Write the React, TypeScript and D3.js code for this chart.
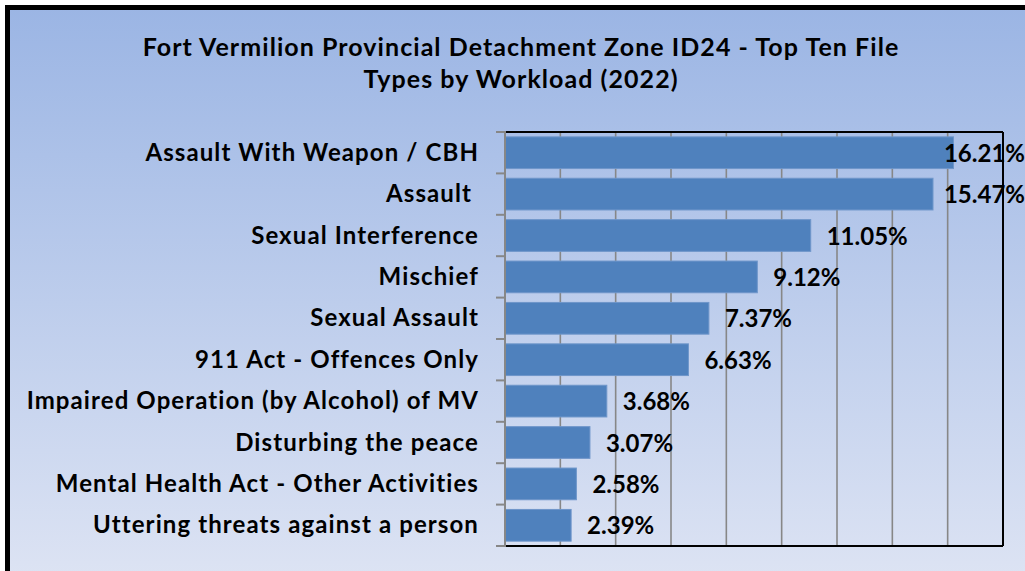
import React from "react";
import * as d3 from "d3";

const titleLines = [
  "Fort Vermilion Provincial Detachment Zone ID24 - Top Ten File",
  "Types by Workload (2022)",
];
const categories = [
  "Assault With Weapon / CBH",
  "Assault ",
  "Sexual Interference",
  "Mischief",
  "Sexual Assault",
  "911 Act - Offences Only",
  "Impaired Operation (by Alcohol) of MV",
  "Disturbing the peace",
  "Mental Health Act - Other Activities",
  "Uttering threats against a person",
];
const values = [16.21, 15.47, 11.05, 9.12, 7.37, 6.63, 3.68, 3.07, 2.58, 2.39];
const xTicks = [0, 2, 4, 6, 8, 10, 12, 14, 16, 18];

const W = 1025;
const H = 571;
const FONT = "Lato, 'Open Sans', sans-serif";

export default function App() {
  const left = 505;
  const right = 1003;
  const top = 132;
  const bottom = 546;
  const x = d3.scaleLinear().domain([0, 18]).range([left, right]);
  const y = d3.scaleBand<string>().domain(categories).range([top, bottom]).paddingInner(0.234).paddingOuter(0.117);
  const step = y.step();
  const labelFs = 24;
  const valueW = 79;

  return (
    <svg width={W} height={H} style={{ position: "absolute", left: 0, top: 0 }} fontFamily={FONT}>
      <defs>
        <linearGradient id="bg" x1="0" y1="0" x2="0" y2="1">
          <stop offset="0" stopColor="#9bb5e4" />
          <stop offset="1" stopColor="#dfe5f4" />
        </linearGradient>
      </defs>
      <rect x={7.5} y={7.5} width={W + 20} height={H + 20} fill="url(#bg)" stroke="#000" strokeWidth={5} />
      {titleLines.map((t, i) => (
        <text
          key={i}
          x={521}
          y={56 + i * 32}
          textAnchor="middle"
          fontSize={25}
          letterSpacing={1.05}
          fontWeight="bold"
          fill="#000"
        >
          {t}
        </text>
      ))}
      {xTicks.slice(1, -1).map((t) => (
        <line key={t} x1={x(t)} x2={x(t)} y1={top} y2={bottom} stroke="#878787" strokeWidth={1.6} />
      ))}
      {categories.map((c, i) => (
        <rect
          key={c}
          x={x(0)}
          y={y(c)!}
          width={x(values[i]) - x(0)}
          height={y.bandwidth()}
          fill="#4f81bd"
          stroke="#6f96ca"
          strokeWidth={1}
        />
      ))}
      <line x1={left} x2={right} y1={top} y2={top} stroke="#000" strokeWidth={2} />
      <line x1={right} x2={right} y1={top} y2={bottom} stroke="#000" strokeWidth={2} />
      <line x1={left} x2={right} y1={bottom} y2={bottom} stroke="#000" strokeWidth={2} />
      <line x1={left} x2={left} y1={top - 1} y2={bottom + 1} stroke="#878787" strokeWidth={2} />
      {d3.range(categories.length + 1).map((i) => (
        <line key={i} x1={left - 9} x2={left} y1={top + i * step} y2={top + i * step} stroke="#878787" strokeWidth={2} />
      ))}
      {categories.map((c) => (
        <text
          key={c}
          x={479}
          y={y(c)! + y.bandwidth() / 2 + 8}
          textAnchor="end"
          fontSize={labelFs}
          letterSpacing={1.1}
          fontWeight="bold"
          fill="#000"
          style={{ whiteSpace: "pre" }}
        >
          {c}
        </text>
      ))}
      {categories.map((c, i) => {
        let vx = x(values[i]) + 16;
        let anchor: "start" | "end" = "start";
        if (vx + valueW > W) {
          vx = W;
          anchor = "end";
        }
        return (
          <text
            key={c}
            x={vx}
            y={y(c)! + y.bandwidth() / 2 + 9}
            textAnchor={anchor}
            fontSize={labelFs}
            fontWeight="bold"
            fill="#000"
          >
            {values[i].toFixed(2) + "%"}
          </text>
        );
      })}
    </svg>
  );
}
